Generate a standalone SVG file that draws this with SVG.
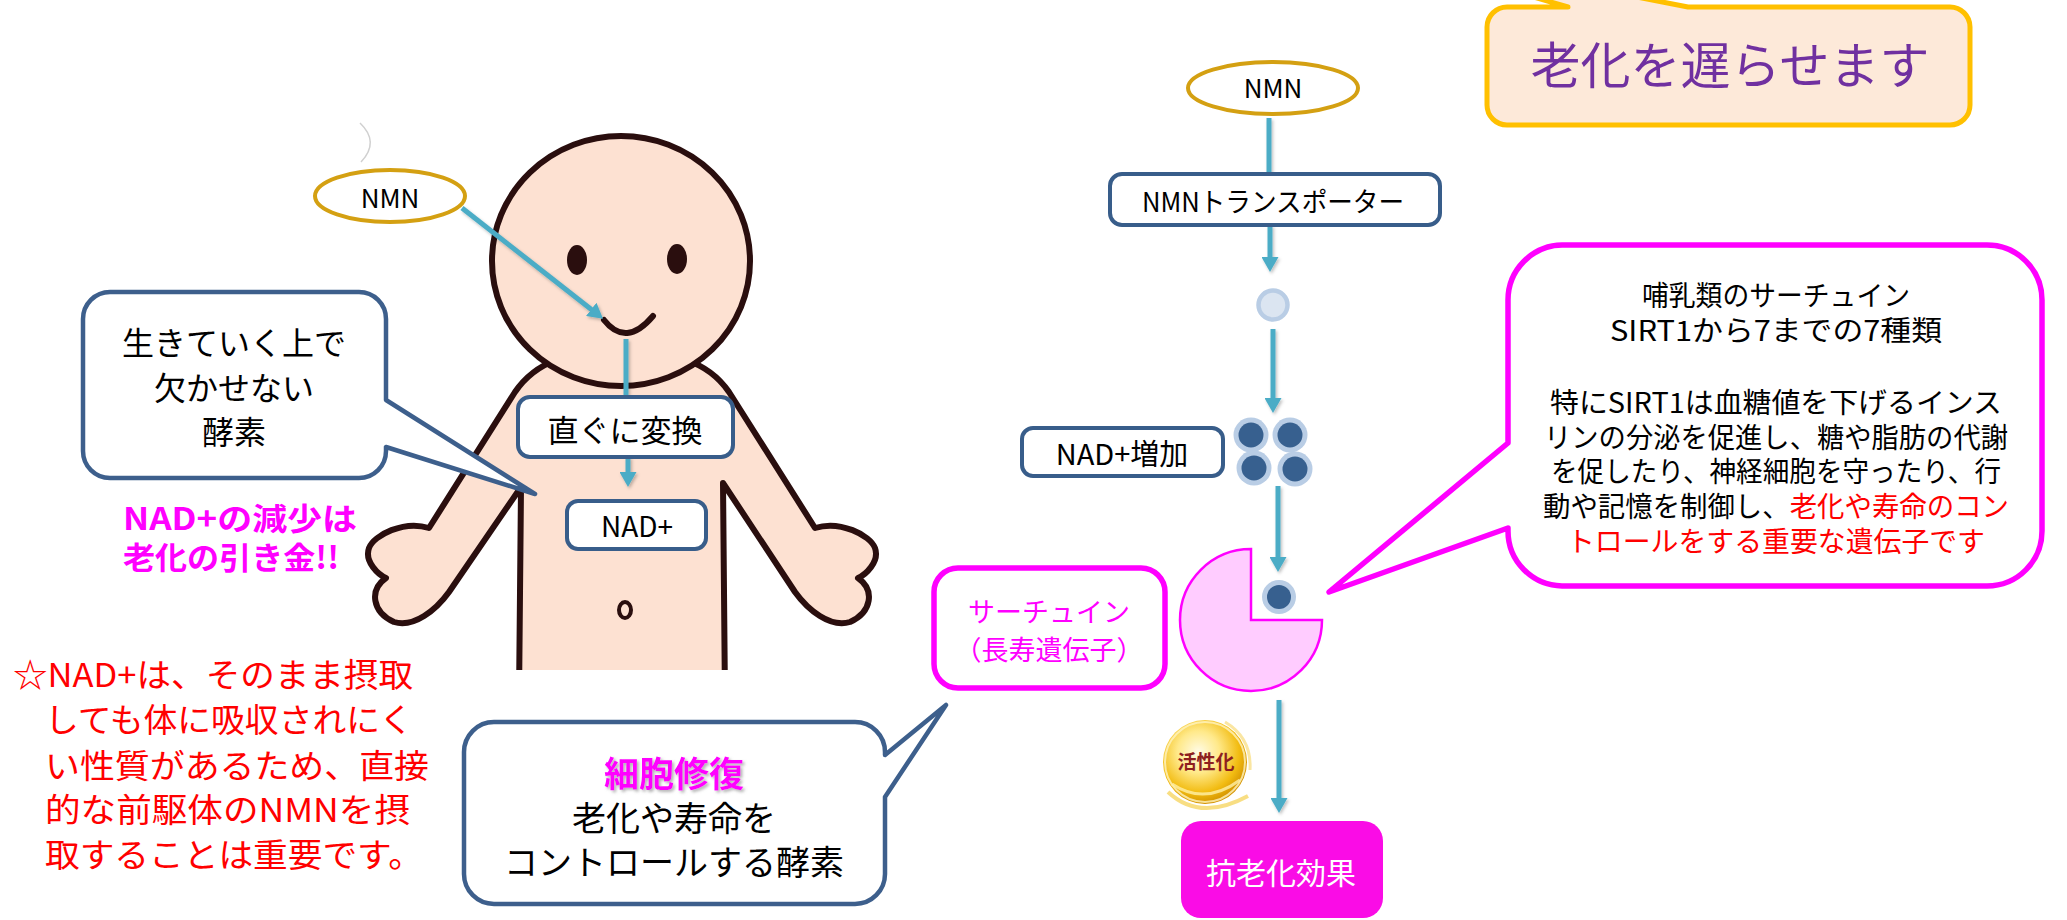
<svg xmlns="http://www.w3.org/2000/svg" width="2067" height="920" viewBox="0 0 2067 920">
  <defs>
    <style>
      text { font-family: "Noto Sans CJK JP", "Noto Sans", "Liberation Sans", sans-serif; }
      .c { text-anchor: middle; }
      .blk { fill: #000000; }
      .box { fill: #FFFFFF; stroke: #385D8A; stroke-width: 4; }
      .bubble { fill: #FFFFFF; stroke: #3D5F8C; stroke-width: 4.5; stroke-linejoin: round; }
      .pinkline { fill: #FFFFFF; stroke: #FF00FF; stroke-width: 5.5; stroke-linejoin: round; }
      .flow { fill: none; stroke: #4BACC6; stroke-width: 5; }
      .ring { fill: #B9CDE5; }
      .core { fill: #37608F; }
      .outline { stroke: #2A0E0E; stroke-linejoin: round; stroke-linecap: round; }
      .red { fill: #FF0000; }
      .mag { fill: #FF00FF; }
    </style>
    <marker id="head" viewBox="0 0 15 17" refX="1" refY="8.5" markerWidth="15" markerHeight="17" markerUnits="userSpaceOnUse" orient="auto">
      <path d="M0,0 L15,8.5 L0,17 Z" fill="#4BACC6"/>
    </marker>
    <clipPath id="figClip">
      <rect x="0" y="0" width="2067" height="670"/>
    </clipPath>
    <radialGradient id="goldBall" cx="0.42" cy="0.38" r="0.62">
      <stop offset="0" stop-color="#FFFBE6"/>
      <stop offset="0.4" stop-color="#FFE98A"/>
      <stop offset="0.78" stop-color="#F2BC12"/>
      <stop offset="1" stop-color="#D49300"/>
    </radialGradient>
    <filter id="softShadow" x="-10%" y="-20%" width="130%" height="150%">
      <feDropShadow dx="2" dy="2" stdDeviation="1.5" flood-color="#808080" flood-opacity="0.6"/>
    </filter>
    <filter id="arrowShadow" x="-50%" y="-10%" width="200%" height="130%">
      <feDropShadow dx="1.5" dy="2" stdDeviation="1.5" flood-color="#000000" flood-opacity="0.25"/>
    </filter>
  </defs>

  <rect x="0" y="0" width="2067" height="920" fill="#FFFFFF"/>

  <!-- faint stray arc -->
  <path d="M 360,123 Q 380,142 361,162" fill="none" stroke="#D0D0D0" stroke-width="1.5"/>

  <!-- cartoon figure -->
  <g id="figure" clip-path="url(#figClip)">
    <path class="outline" fill="#FDE1D2" stroke-width="6"
      d="M 621,330 L 556,360 C 540,366 526,376 515,392 L 429,528
         C 404,520 374,535 369,548 C 364,562 379,575 386,578
         C 369,590 372,612 394,622 C 414,628 436,610 449,592
         L 521,487 L 519,700 L 725,700 L 723,483 L 795,592
         C 808,610 830,628 850,622 C 872,612 875,590 858,578
         C 865,575 880,562 875,548 C 870,535 840,520 815,528
         L 729,392 C 718,376 704,366 686,360 Z"/>
    <ellipse class="outline" cx="621" cy="261" rx="129" ry="125" fill="#FDE1D2" stroke-width="6"/>
    <ellipse cx="577" cy="260" rx="10" ry="15" fill="#2A0E0E"/>
    <ellipse cx="677" cy="259" rx="10" ry="15" fill="#2A0E0E"/>
    <path class="outline" d="M 604,320 Q 626,348 653,316" fill="none" stroke-width="6"/>
    <ellipse class="outline" cx="625" cy="610" rx="6" ry="8" fill="none" stroke-width="4"/>
  </g>

  <!-- connectors -->
  <g id="connectors" filter="url(#arrowShadow)">
    <line class="flow" x1="462" y1="208" x2="592" y2="310" marker-end="url(#head)"/>
    <line class="flow" x1="626" y1="339" x2="626" y2="398"/>
    <line class="flow" x1="628" y1="457" x2="628" y2="473" marker-end="url(#head)"/>
    <line class="flow" x1="1269" y1="118" x2="1269" y2="174"/>
    <line class="flow" x1="1270" y1="225" x2="1270" y2="258" marker-end="url(#head)"/>
    <line class="flow" x1="1273" y1="329" x2="1273" y2="399" marker-end="url(#head)"/>
    <line class="flow" x1="1278" y1="486" x2="1278" y2="558" marker-end="url(#head)"/>
    <line class="flow" x1="1279" y1="700" x2="1279" y2="799" marker-end="url(#head)"/>
  </g>

  <!-- left NMN -->
  <g id="nmn-left">
    <ellipse cx="390" cy="196" rx="75" ry="26" fill="#FFFFFF" stroke="#D4A012" stroke-width="4"/>
    <text class="c blk" x="390" y="208" font-size="26">NMN</text>
  </g>

  <!-- conversion box -->
  <g id="convert">
    <rect class="box" x="518" y="397" width="215" height="60" rx="12"/>
    <text class="c blk" x="625" y="442" font-size="31">直ぐに変換</text>
  </g>

  <g id="nad-left">
    <rect class="box" x="567" y="501" width="139" height="48" rx="11"/>
    <text class="c blk" x="637" y="537" font-size="28">NAD+</text>
  </g>

  <!-- enzyme bubble -->
  <g id="bubble-enzyme">
    <path class="bubble" d="M 110,292 H 359 A 27 27 0 0 1 386,319 V 400 L 535,494 L 386,447 V 451 A 27 27 0 0 1 359,478 H 110 A 27 27 0 0 1 83,451 V 319 A 27 27 0 0 1 110,292 Z"/>
    <text class="c blk" x="234" y="355" font-size="32">生きていく上で</text>
    <text class="c blk" x="234" y="400" font-size="32">欠かせない</text>
    <text class="c blk" x="234" y="444" font-size="32">酵素</text>
  </g>

  <g id="note-decline">
    <text class="mag" x="123" y="530" font-size="31" font-weight="bold" textLength="234" lengthAdjust="spacingAndGlyphs">NAD+の減少は</text>
    <text class="mag" x="123" y="569" font-size="31" font-weight="bold" textLength="216" lengthAdjust="spacingAndGlyphs">老化の引き金!!</text>
  </g>

  <g id="note-absorb" font-size="33">
    <text class="red" x="13" y="687" textLength="400" lengthAdjust="spacingAndGlyphs">☆NAD+は、そのまま摂取</text>
    <text class="red" x="45" y="732" textLength="368" lengthAdjust="spacingAndGlyphs">しても体に吸収されにく</text>
    <text class="red" x="45" y="778" textLength="384" lengthAdjust="spacingAndGlyphs">い性質があるため、直接</text>
    <text class="red" x="45" y="822" textLength="365" lengthAdjust="spacingAndGlyphs">的な前駆体のNMNを摂</text>
    <text class="red" x="45" y="867" textLength="378" lengthAdjust="spacingAndGlyphs">取することは重要です。</text>
  </g>

  <!-- repair bubble -->
  <g id="bubble-repair">
    <path class="bubble" d="M 494,722 H 855 A 30 30 0 0 1 885,752 V 755 L 946,705 L 885,797 V 874 A 30 30 0 0 1 855,904 H 494 A 30 30 0 0 1 464,874 V 752 A 30 30 0 0 1 494,722 Z"/>
    <text class="c mag" x="674" y="787" font-size="35" font-weight="bold" filter="url(#softShadow)">細胞修復</text>
    <text class="c blk" x="674" y="831" font-size="34">老化や寿命を</text>
    <text class="c blk" x="674" y="875" font-size="34">コントロールする酵素</text>
  </g>

  <!-- right column -->
  <g id="nmn-right">
    <ellipse cx="1273" cy="88" rx="85" ry="26" fill="#FFFFFF" stroke="#D4A012" stroke-width="4"/>
    <text class="c blk" x="1273" y="98" font-size="26">NMN</text>
  </g>

  <g id="transporter">
    <rect class="box" x="1110" y="174" width="330" height="51" rx="12"/>
    <text class="c blk" x="1273" y="212" font-size="27" textLength="262" lengthAdjust="spacingAndGlyphs">NMNトランスポーター</text>
  </g>

  <g id="nmn-molecule">
    <circle cx="1273" cy="305" r="14.5" fill="#DBE5F1" stroke="#B9CDE5" stroke-width="4.5"/>
  </g>

  <g id="nad-increase">
    <rect class="box" x="1022" y="428" width="201" height="48" rx="11"/>
    <text class="c blk" x="1122" y="465" font-size="29">NAD+増加</text>
  </g>

  <g id="nad-molecules">
    <circle class="ring" cx="1251" cy="435" r="17.5"/>
    <circle class="core" cx="1251" cy="435" r="12.5"/>
    <circle class="ring" cx="1290" cy="435" r="17.5"/>
    <circle class="core" cx="1290" cy="435" r="12.5"/>
    <circle class="ring" cx="1254" cy="468" r="17.5"/>
    <circle class="core" cx="1254" cy="468" r="12.5"/>
    <circle class="ring" cx="1295" cy="469" r="17.5"/>
    <circle class="core" cx="1295" cy="469" r="12.5"/>
  </g>

  <g id="sirtuin-shape">
    <path d="M 1251,620 L 1251,549 A 71 71 0 1 0 1322,620 Z" fill="#FFCCFF" stroke="#FF00FF" stroke-width="2.5" stroke-linejoin="miter"/>
    <circle class="ring" cx="1279" cy="597" r="17"/>
    <circle class="core" cx="1279" cy="597" r="12"/>
  </g>

  <g id="sirtuin-label">
    <rect class="pinkline" x="934" y="568" width="231" height="120" rx="24"/>
    <text class="c mag" x="1049" y="622" font-size="27">サーチュイン</text>
    <text class="c mag" x="1049" y="660" font-size="27">（長寿遺伝子）</text>
  </g>

  <g id="activation">
    <path d="M 1168,792 Q 1200,822 1248,796" fill="none" stroke="#F6D35A" stroke-width="4" opacity="0.75"/>
    <path d="M 1225,722 Q 1252,738 1250,770" fill="none" stroke="#F8DC7A" stroke-width="3" opacity="0.7"/>
    <circle cx="1205" cy="762" r="42" fill="url(#goldBall)"/>
    <circle cx="1205" cy="762" r="40" fill="none" stroke="#FFF4C0" stroke-width="2" opacity="0.8"/>
    <path d="M 1172,784 Q 1205,806 1240,780" fill="none" stroke="#FFF0A8" stroke-width="3" opacity="0.8"/>
    <text class="c" x="1206" y="769" font-size="19" font-weight="bold" fill="#8E1F1F">活性化</text>
  </g>

  <g id="anti-aging">
    <rect x="1181" y="821" width="202" height="97" rx="20" fill="#FA0CE6"/>
    <text class="c" x="1281" y="884" font-size="30" fill="#FFFFFF">抗老化効果</text>
  </g>

  <g id="callout-sirt">
    <path class="pinkline" d="M 1562,245 H 1987 A 55 55 0 0 1 2042,300 V 531 A 55 55 0 0 1 1987,586 H 1562 A 55 55 0 0 1 1508,531 V 528 L 1329,592 L 1508,443 V 300 A 55 55 0 0 1 1562,245 Z"/>
    <g font-size="28">
      <text class="c blk" x="1776" y="306" textLength="268" lengthAdjust="spacingAndGlyphs">哺乳類のサーチュイン</text>
      <text class="c blk" x="1776" y="341" textLength="332" lengthAdjust="spacingAndGlyphs">SIRT1から7までの7種類</text>
      <text class="c blk" x="1776" y="413" textLength="452" lengthAdjust="spacingAndGlyphs">特にSIRT1は血糖値を下げるインス</text>
      <text class="c blk" x="1776" y="448" textLength="464" lengthAdjust="spacingAndGlyphs">リンの分泌を促進し、糖や脂肪の代謝</text>
      <text class="c blk" x="1776" y="482" textLength="450" lengthAdjust="spacingAndGlyphs">を促したり、神経細胞を守ったり、行</text>
      <text class="c" x="1776" y="517" textLength="466" lengthAdjust="spacingAndGlyphs"><tspan class="blk">動や記憶を制御し、</tspan><tspan class="red">老化や寿命のコン</tspan></text>
      <text class="c red" x="1776" y="552" textLength="418" lengthAdjust="spacingAndGlyphs">トロールをする重要な遺伝子です</text>
    </g>
  </g>

  <g id="callout-slow">
    <path d="M 1507,7 H 1568 L 1324,-64 L 1688,7 H 1950 A 20 20 0 0 1 1970,27 V 105 A 20 20 0 0 1 1950,125 H 1507 A 20 20 0 0 1 1487,105 V 27 A 20 20 0 0 1 1507,7 Z" fill="#FDE9D9" stroke="#FFC000" stroke-width="5" stroke-linejoin="round"/>
    <text class="c" x="1730" y="84" font-size="50" fill="#7030A0">老化を遅らせます</text>
  </g>
</svg>
